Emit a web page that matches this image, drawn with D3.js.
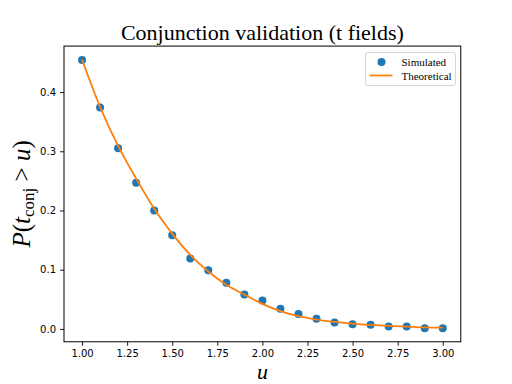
<!DOCTYPE html>
<html>
<head>
<meta charset="utf-8">
<script src="https://cdn.jsdelivr.net/npm/d3@7"></script>
<style>
  body { margin: 0; background: #fff; }
  svg { display: block; }
</style>
</head>
<body>
<div id="chart"></div>
<script>
// thresholds u
var uValues = [1.0, 1.1, 1.2, 1.3, 1.4, 1.5, 1.6, 1.7, 1.8, 1.9, 2.0,
               2.1, 2.2, 2.3, 2.4, 2.5, 2.6, 2.7, 2.8, 2.9, 3.0];
// simulated exceedance probabilities (dots)
var simulated = [0.454, 0.374, 0.305, 0.247, 0.200, 0.158, 0.119, 0.099, 0.078, 0.058, 0.048,
                 0.034, 0.025, 0.017, 0.011, 0.008, 0.007, 0.004, 0.004, 0.001, 0.001];
// theoretical curve
var theoretical = [0.455, 0.375, 0.309, 0.254, 0.203, 0.161, 0.125, 0.097, 0.0745, 0.058, 0.0423,
                   0.030, 0.0214, 0.0158, 0.0118, 0.009, 0.0068, 0.0051, 0.0039, 0.0027, 0.0022];
var xTicks = [1.00, 1.25, 1.50, 1.75, 2.00, 2.25, 2.50, 2.75, 3.00];
var yTicks = [0.0, 0.1, 0.2, 0.3, 0.4];

(function (selector) {
    var W = 512, H = 384;
    var svg = d3.select(selector).append("svg")
        .attr("width", W)
        .attr("height", H);

    var margin = { top: 46.08, right: 51.2, bottom: 42.24, left: 64 },
        width = W - margin.left - margin.right,
        height = H - margin.top - margin.bottom,
        g = svg.append("g").attr("transform", "translate(" + margin.left + "," + margin.top + ")");

    // matplotlib-like 5% margins
    var xMin = d3.min(uValues), xMax = d3.max(uValues);
    var xPad = (xMax - xMin) * 0.05;
    var all = simulated.concat(theoretical);
    var yMin = d3.min(all), yMax = d3.max(all);
    var yPad = (yMax - yMin) * 0.05;

    var x = d3.scaleLinear().domain([xMin - xPad, xMax + xPad]).range([0, width]);
    var y = d3.scaleLinear().domain([yMin - yPad, yMax + yPad]).range([height, 0]);

    var line = d3.line()
        .x(function (d, i) { return x(uValues[i]); })
        .y(function (d) { return y(d); })
        .curve(d3.curveMonotoneX);

    var plot = g.append("g");

    plot.selectAll("circle.sim")
        .data(simulated)
        .enter().append("circle")
        .attr("class", "sim")
        .attr("cx", function (d, i) { return x(uValues[i]); })
        .attr("cy", function (d) { return y(d); })
        .attr("r", 4)
        .attr("fill", "#1f77b4");

    plot.append("path")
        .datum(theoretical)
        .attr("d", line)
        .attr("fill", "none")
        .attr("stroke", "#ff7f0e")
        .attr("stroke-width", 1.8);

    // axes
    var xAxis = g.append("g")
        .attr("transform", "translate(0," + height + ")")
        .call(d3.axisBottom(x).tickValues(xTicks).tickFormat(d3.format(".2f")).tickSize(4).tickPadding(4));
    var yAxis = g.append("g")
        .call(d3.axisLeft(y).tickValues(yTicks).tickFormat(d3.format(".1f")).tickSize(4).tickPadding(4));

    [xAxis, yAxis].forEach(function (a) {
        a.select(".domain").remove();
        a.selectAll("line").attr("stroke", "#000").attr("stroke-width", 0.9);
        a.selectAll("text")
            .attr("font-family", "DejaVu Sans")
            .attr("font-size", 10)
            .attr("fill", "#000");
    });

    // frame
    g.append("rect")
        .attr("width", width)
        .attr("height", height)
        .attr("fill", "none")
        .attr("stroke", "#000")
        .attr("stroke-width", 1);

    // title
    svg.append("text")
        .attr("x", margin.left + width / 2)
        .attr("y", 40)
        .attr("text-anchor", "middle")
        .attr("font-family", "Liberation Serif")
        .attr("font-size", 22)
        .text("Conjunction validation (t fields)");

    // x label
    svg.append("text")
        .attr("x", margin.left + width / 2)
        .attr("y", 379)
        .attr("text-anchor", "middle")
        .attr("font-family", "Liberation Serif")
        .attr("font-style", "italic")
        .attr("font-size", 22)
        .text("u");

    // y label
    var yl = svg.append("text")
        .attr("transform", "translate(30," + (margin.top + height / 2) + ") rotate(-90)")
        .attr("text-anchor", "middle")
        .attr("font-family", "Liberation Serif")
        .attr("font-size", 25);
    yl.append("tspan").attr("font-style", "italic").text("P");
    yl.append("tspan").text("(");
    yl.append("tspan").attr("font-style", "italic").text("t");
    yl.append("tspan").attr("font-size", 17).attr("dy", 4).text("conj");
    yl.append("tspan").attr("dy", -4).text(" > ");
    yl.append("tspan").attr("font-style", "italic").text("u");
    yl.append("tspan").text(")");

    // legend
    var legend = svg.append("g").attr("font-family", "Liberation Serif").attr("font-size", 11);
    legend.append("rect")
        .attr("x", 365.5).attr("y", 52.5)
        .attr("width", 90).attr("height", 33)
        .attr("rx", 2.5)
        .attr("fill", "#fff").attr("fill-opacity", 0.8)
        .attr("stroke", "#d6d6d6").attr("stroke-width", 1);
    legend.append("circle")
        .attr("cx", 381.5).attr("cy", 62)
        .attr("r", 4).attr("fill", "#1f77b4");
    legend.append("line")
        .attr("x1", 369.5).attr("x2", 392.5)
        .attr("y1", 75.5).attr("y2", 75.5)
        .attr("stroke", "#ff7f0e").attr("stroke-width", 1.8);
    legend.append("text").attr("x", 401.5).attr("y", 65.5).text("Simulated");
    legend.append("text").attr("x", 401.5).attr("y", 79.5).text("Theoretical");
})("#chart");
</script>
</body>
</html>
